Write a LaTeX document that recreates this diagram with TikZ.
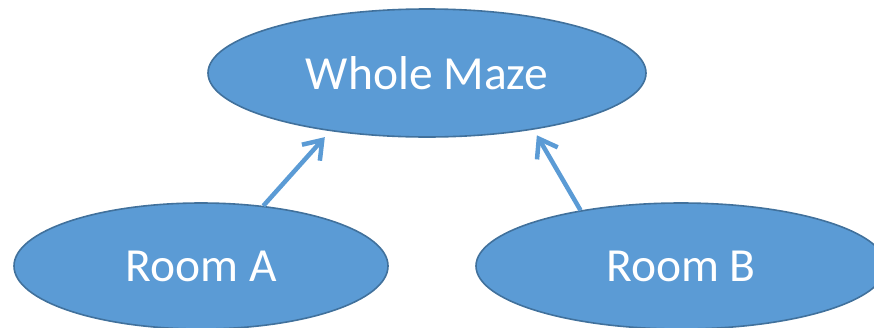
\documentclass[tikz,border=0pt]{standalone}
\usepackage{fontspec}
\setmainfont{Carlito}
\usetikzlibrary{shapes.geometric,arrows.meta}
\definecolor{fillblue}{HTML}{5B9BD5}
\definecolor{edgeblue}{HTML}{41719C}
\tikzset{
  oval/.style={ellipse, draw=edgeblue, line width=1.6pt, fill=fillblue, inner sep=0pt,
    text=white, font=\fontsize{47.5}{57}\selectfont},
  arr/.style={draw=fillblue, line width=4.5pt,
    -{Straight Barb[length=17pt,width=24pt,line width=4.5pt]}}
}
\begin{document}
\begin{tikzpicture}[x=1pt,y=-1pt]
\useasboundingbox (0,0) rectangle (874,327);
\node[oval, minimum width=438pt, minimum height=128pt] (wm) at (427,73) {Whole Maze};
\node[oval, minimum width=374pt, minimum height=126pt] (ra) at (201,266) {Room A};
\node[oval, minimum width=410pt, minimum height=126pt] (rb) at (681,266) {Room B};
\draw[arr, shorten >=8pt] (ra.44) -- (wm.211.5);
\draw[arr, shorten >=6.5pt] (rb.151) -- (wm.332.8);
\end{tikzpicture}
\end{document}
